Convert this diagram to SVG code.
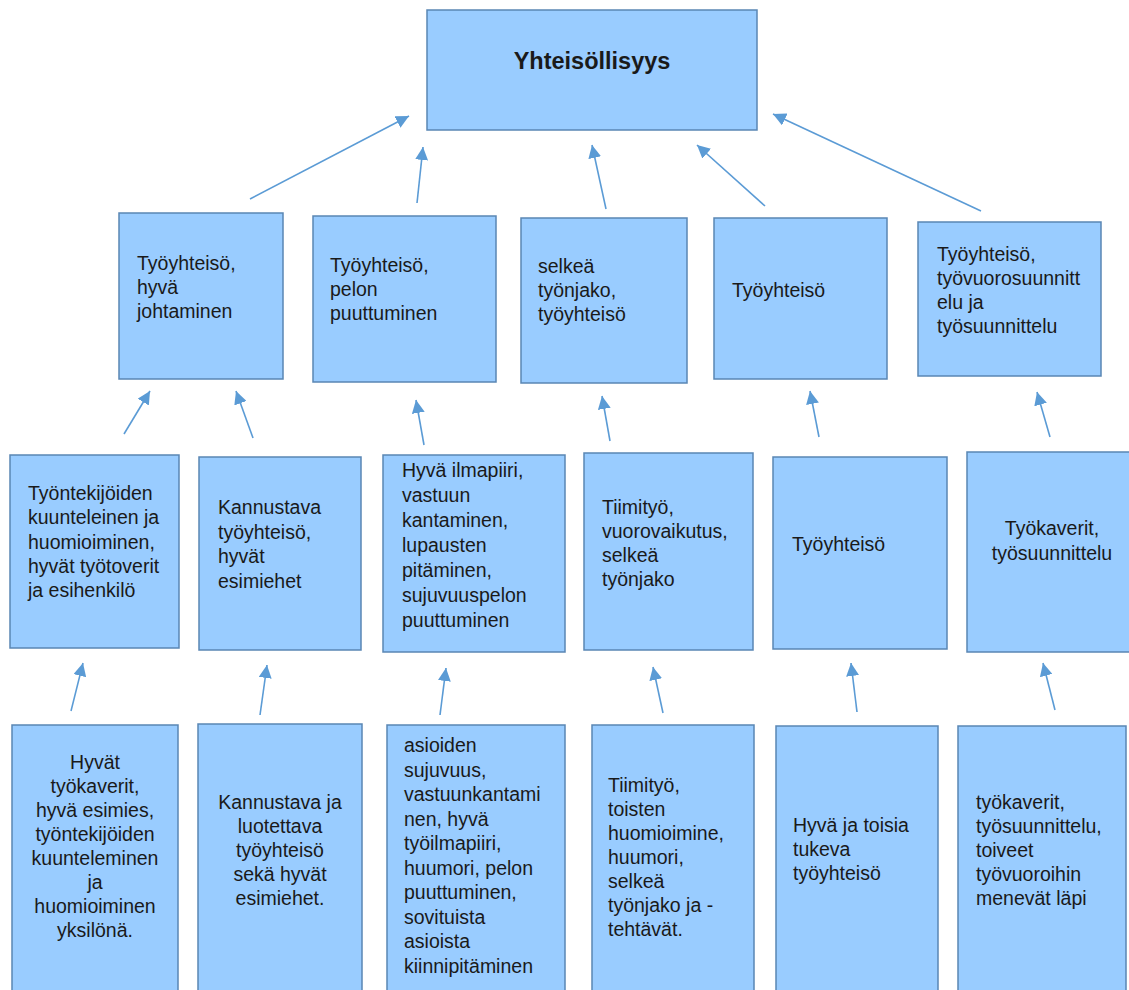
<svg xmlns="http://www.w3.org/2000/svg" width="1129" height="990" viewBox="0 0 1129 990">
  <style>
    .box { fill: #99ccff; stroke: #5a86b4; stroke-width: 1.5; }
    .t { font-family: "Liberation Sans", Arial, sans-serif; font-size: 19.5px; fill: #1a1a1a; }
    .c { text-anchor: middle; }
    .title { font-family: "Liberation Sans", Arial, sans-serif; font-size: 23.5px; font-weight: bold; fill: #1a1a1a; text-anchor: middle; }
    .arr { stroke: #5b9bd5; stroke-width: 1.6; fill: none; marker-end: url(#head); }
  </style>
  <defs>
    <marker id="head" markerUnits="userSpaceOnUse" markerWidth="14" markerHeight="13" refX="13" refY="6.5" orient="auto">
      <path d="M0,0 L13,6.5 L0,13 z" fill="#5b9bd5"/>
    </marker>
  </defs>
  <rect width="1129" height="990" fill="#ffffff"/>

  <!-- top level -->
  <g id="n-yhteisollisyys">
    <rect class="box" x="427" y="10" width="330" height="120"/>
    <text class="title" x="592" y="69">Yhteisöllisyys</text>
  </g>

  <!-- second level -->
  <g id="n-johtaminen">
    <rect class="box" x="119" y="213" width="164" height="166"/>
    <text class="t" x="137" y="270">Työyhteisö,</text>
    <text class="t" x="137" y="294">hyvä</text>
    <text class="t" x="137" y="318">johtaminen</text>
  </g>
  <g id="n-pelon">
    <rect class="box" x="313" y="216" width="183" height="166"/>
    <text class="t" x="330" y="272">Työyhteisö,</text>
    <text class="t" x="330" y="296">pelon</text>
    <text class="t" x="330" y="320">puuttuminen</text>
  </g>
  <g id="n-selkea">
    <rect class="box" x="521" y="218" width="166" height="165"/>
    <text class="t" x="538" y="273">selkeä</text>
    <text class="t" x="538" y="297">työnjako,</text>
    <text class="t" x="538" y="321">työyhteisö</text>
  </g>
  <g id="n-tyoyhteiso">
    <rect class="box" x="714" y="218" width="173" height="161"/>
    <text class="t" x="732" y="297">Työyhteisö</text>
  </g>
  <g id="n-suunnittelu">
    <rect class="box" x="918" y="222" width="183" height="154"/>
    <text class="t" x="937" y="261">Työyhteisö,</text>
    <text class="t" x="937" y="285">työvuorosuunnitt</text>
    <text class="t" x="937" y="309">elu ja</text>
    <text class="t" x="937" y="333">työsuunnittelu</text>
  </g>

  <!-- third level -->
  <g id="n-kuunteleinen">
    <rect class="box" x="10" y="455" width="169" height="193"/>
    <text class="t" x="28" y="500">Työntekijöiden</text>
    <text class="t" x="28" y="524">kuunteleinen ja</text>
    <text class="t" x="28" y="548.5">huomioiminen,</text>
    <text class="t" x="28" y="573">hyvät työtoverit</text>
    <text class="t" x="28" y="597">ja esihenkilö</text>
  </g>
  <g id="n-kannustava">
    <rect class="box" x="199" y="457" width="162" height="193"/>
    <text class="t" x="218" y="514">Kannustava</text>
    <text class="t" x="218" y="538.5">työyhteisö,</text>
    <text class="t" x="218" y="563">hyvät</text>
    <text class="t" x="218" y="587.5">esimiehet</text>
  </g>
  <g id="n-ilmapiiri">
    <rect class="box" x="383" y="455" width="182" height="197"/>
    <text class="t" x="402" y="477">Hyvä ilmapiiri,</text>
    <text class="t" x="402" y="502">vastuun</text>
    <text class="t" x="402" y="527">kantaminen,</text>
    <text class="t" x="402" y="552">lupausten</text>
    <text class="t" x="402" y="577">pitäminen,</text>
    <text class="t" x="402" y="602">sujuvuuspelon</text>
    <text class="t" x="402" y="627">puuttuminen</text>
  </g>
  <g id="n-tiimityo">
    <rect class="box" x="584" y="453" width="169" height="197"/>
    <text class="t" x="602" y="514">Tiimityö,</text>
    <text class="t" x="602" y="538">vuorovaikutus,</text>
    <text class="t" x="602" y="562">selkeä</text>
    <text class="t" x="602" y="586">työnjako</text>
  </g>
  <g id="n-tyoyhteiso-2">
    <rect class="box" x="773" y="457" width="174" height="192"/>
    <text class="t" x="792" y="551">Työyhteisö</text>
  </g>
  <g id="n-tyokaverit">
    <rect class="box" x="967" y="452" width="173" height="200"/>
    <text class="t c" x="1052" y="535">Työkaverit,</text>
    <text class="t c" x="1052" y="560">työsuunnittelu</text>
  </g>

  <!-- bottom level -->
  <g id="n-hyvat-tyokaverit">
    <rect class="box" x="12" y="725" width="166" height="270"/>
    <text class="t c" x="95" y="769">Hyvät</text>
    <text class="t c" x="95" y="793">työkaverit,</text>
    <text class="t c" x="95" y="817">hyvä esimies,</text>
    <text class="t c" x="95" y="841">työntekijöiden</text>
    <text class="t c" x="95" y="865">kuunteleminen</text>
    <text class="t c" x="95" y="889">ja</text>
    <text class="t c" x="95" y="913">huomioiminen</text>
    <text class="t c" x="95" y="937">yksilönä.</text>
  </g>
  <g id="n-luotettava">
    <rect class="box" x="198" y="724" width="164" height="271"/>
    <text class="t c" x="280" y="809">Kannustava ja</text>
    <text class="t c" x="280" y="833">luotettava</text>
    <text class="t c" x="280" y="857">työyhteisö</text>
    <text class="t c" x="280" y="881">sekä hyvät</text>
    <text class="t c" x="280" y="905">esimiehet.</text>
  </g>
  <g id="n-sujuvuus">
    <rect class="box" x="387" y="725" width="178" height="270"/>
    <text class="t" x="404" y="752">asioiden</text>
    <text class="t" x="404" y="776.5">sujuvuus,</text>
    <text class="t" x="404" y="801">vastuunkantami</text>
    <text class="t" x="404" y="825.5">nen, hyvä</text>
    <text class="t" x="404" y="850">työilmapiiri,</text>
    <text class="t" x="404" y="874.5">huumori, pelon</text>
    <text class="t" x="404" y="899">puuttuminen,</text>
    <text class="t" x="404" y="923.5">sovituista</text>
    <text class="t" x="404" y="948">asioista</text>
    <text class="t" x="404" y="972.5">kiinnipitäminen</text>
  </g>
  <g id="n-huomioiminen">
    <rect class="box" x="592" y="725" width="162" height="270"/>
    <text class="t" x="608" y="792">Tiimityö,</text>
    <text class="t" x="608" y="816">toisten</text>
    <text class="t" x="608" y="840">huomioimine,</text>
    <text class="t" x="608" y="864">huumori,</text>
    <text class="t" x="608" y="888">selkeä</text>
    <text class="t" x="608" y="912">työnjako ja -</text>
    <text class="t" x="608" y="936">tehtävät.</text>
  </g>
  <g id="n-tukeva">
    <rect class="box" x="776" y="726" width="162" height="269"/>
    <text class="t" x="793" y="832">Hyvä ja toisia</text>
    <text class="t" x="793" y="856">tukeva</text>
    <text class="t" x="793" y="880">työyhteisö</text>
  </g>
  <g id="n-toiveet">
    <rect class="box" x="958" y="726" width="168" height="269"/>
    <text class="t" x="976" y="809">työkaverit,</text>
    <text class="t" x="976" y="833">työsuunnittelu,</text>
    <text class="t" x="976" y="857">toiveet</text>
    <text class="t" x="976" y="881">työvuoroihin</text>
    <text class="t" x="976" y="905">menevät läpi</text>
  </g>

  <!-- connectors -->
  <g id="connectors">
    <line class="arr" x1="250" y1="199" x2="409" y2="116"/>
    <line class="arr" x1="417" y1="203" x2="423" y2="147"/>
    <line class="arr" x1="606" y1="209" x2="592" y2="145"/>
    <line class="arr" x1="765" y1="206" x2="697" y2="145"/>
    <line class="arr" x1="981" y1="211" x2="773" y2="114"/>

    <line class="arr" x1="124" y1="434" x2="150" y2="391"/>
    <line class="arr" x1="253" y1="438" x2="236" y2="391"/>
    <line class="arr" x1="424" y1="445" x2="416" y2="400"/>
    <line class="arr" x1="610" y1="441" x2="602" y2="396"/>
    <line class="arr" x1="819" y1="437" x2="810" y2="391"/>
    <line class="arr" x1="1050" y1="437" x2="1037" y2="392"/>

    <line class="arr" x1="71" y1="711" x2="83" y2="663"/>
    <line class="arr" x1="260" y1="715" x2="267" y2="665"/>
    <line class="arr" x1="440" y1="715" x2="446" y2="668"/>
    <line class="arr" x1="663" y1="713" x2="653" y2="667"/>
    <line class="arr" x1="857" y1="712" x2="851" y2="663"/>
    <line class="arr" x1="1055" y1="710" x2="1043" y2="663"/>
  </g>
</svg>
